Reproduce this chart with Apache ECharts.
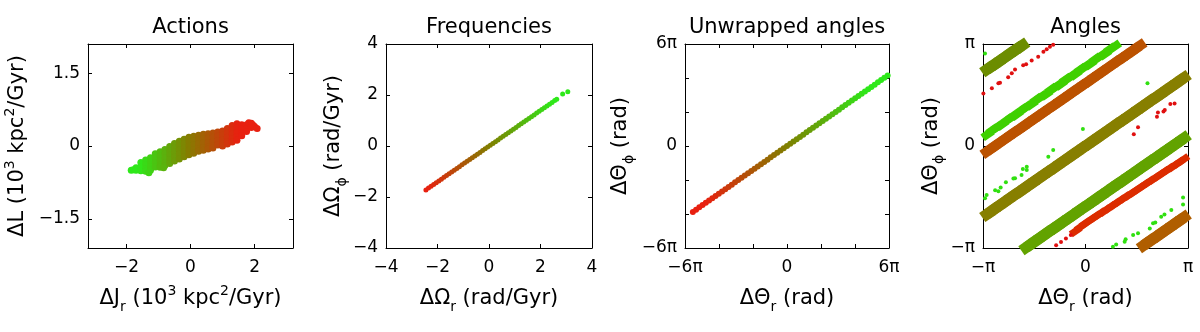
<!DOCTYPE html>
<html>
<head>
<meta charset="utf-8">
<script src="https://cdn.jsdelivr.net/npm/echarts@6/dist/echarts.min.js"></script>
<style>
html, body { margin: 0; padding: 0; background: #fff; }
#chart { width: 1200px; height: 332px; }
</style>
</head>
<body>
<div id="chart"></div>
<script>
const PI = Math.PI;

// tick positions / labels
const actionXTicks = [-2, 0, 2];
const actionYTicks = [-1.5, 0, 1.5];
const freqTicks = [-4, -2, 0, 2, 4];
const unwrapTicks = [-6 * PI, -4 * PI, -2 * PI, 0, 2 * PI, 4 * PI, 6 * PI];
const unwrapLabels = [-6 * PI, 0, 6 * PI];
const angleTicks = [-PI, 0, PI];

const titles = ['Actions', 'Frequencies', 'Unwrapped angles', 'Angles'];

// Actions: dJr vs dL (10^3 kpc^2/Gyr)
const actionsCloud = [
  [-1.85, -0.50], [-1.78, -0.49], [-1.70, -0.45], [-1.70, -0.50],
  [-1.55, -0.34], [-1.55, -0.43], [-1.55, -0.51],
  [-1.40, -0.29], [-1.40, -0.38], [-1.40, -0.47], [-1.40, -0.52],
  [-1.25, -0.24], [-1.25, -0.33], [-1.25, -0.42], [-1.25, -0.50],
  [-1.10, -0.16], [-1.10, -0.25], [-1.10, -0.34], [-1.10, -0.43],
  [-0.95, -0.12], [-0.95, -0.21], [-0.95, -0.30], [-0.95, -0.39], [-0.95, -0.44],
  [-0.80, -0.07], [-0.80, -0.16], [-0.80, -0.25], [-0.80, -0.34], [-0.80, -0.40],
  [-0.65, -0.01], [-0.65, -0.10], [-0.65, -0.19], [-0.65, -0.28], [-0.65, -0.36],
  [-0.50, 0.05], [-0.50, -0.04], [-0.50, -0.13], [-0.50, -0.22], [-0.50, -0.31],
  [-0.35, 0.10], [-0.35, 0.01], [-0.35, -0.08], [-0.35, -0.17], [-0.35, -0.27],
  [-0.20, 0.14], [-0.20, 0.05], [-0.20, -0.04], [-0.20, -0.13], [-0.20, -0.22],
  [-0.05, 0.18], [-0.05, 0.09], [-0.05, 0.00], [-0.05, -0.09], [-0.05, -0.18],
  [0.10, 0.20], [0.10, 0.11], [0.10, 0.02], [0.10, -0.07], [0.10, -0.15],
  [0.25, 0.22], [0.25, 0.13], [0.25, 0.04], [0.25, -0.05], [0.25, -0.11],
  [0.40, 0.24], [0.40, 0.15], [0.40, 0.06], [0.40, -0.03], [0.40, -0.09],
  [0.55, 0.25], [0.55, 0.16], [0.55, 0.07], [0.55, -0.02], [0.55, -0.06],
  [0.70, 0.27], [0.70, 0.18], [0.70, 0.09], [0.70, 0.00], [0.70, -0.04],
  [0.85, 0.29], [0.85, 0.20], [0.85, 0.11], [0.85, 0.02],
  [1.00, 0.31], [1.00, 0.22], [1.00, 0.13], [1.00, 0.04], [1.00, 0.00],
  [1.15, 0.36], [1.15, 0.27], [1.15, 0.18], [1.15, 0.09], [1.15, 0.04],
  [1.30, 0.42], [1.30, 0.33], [1.30, 0.24], [1.30, 0.15], [1.30, 0.08],
  [1.45, 0.46], [1.45, 0.37], [1.45, 0.28], [1.45, 0.19], [1.45, 0.12],
  [1.60, 0.44], [1.60, 0.35], [1.60, 0.26], [1.60, 0.21],
  [1.75, 0.44], [1.75, 0.36], [1.75, 0.30],
  [1.82, 0.48], [1.90, 0.47], [1.90, 0.38], [1.95, 0.43],
  [2.00, 0.40], [2.08, 0.36], [-0.84, -0.45], [-1.30, -0.55]
];

// Frequencies: dOmega_r vs dOmega_phi (rad/Gyr)
const freqPoints = [
  [-2.45, -1.73], [-2.35, -1.65], [-2.25, -1.58], [-2.15, -1.51], [-2.05, -1.44],
  [-1.95, -1.37], [-1.85, -1.30], [-1.75, -1.23], [-1.65, -1.16], [-1.55, -1.09],
  [-1.45, -1.02], [-1.35, -0.95], [-1.25, -0.88], [-1.15, -0.81], [-1.05, -0.74],
  [-0.95, -0.67], [-0.85, -0.60], [-0.75, -0.53], [-0.65, -0.46], [-0.55, -0.39],
  [-0.45, -0.32], [-0.35, -0.25], [-0.25, -0.18], [-0.15, -0.11], [-0.05, -0.04],
  [0.05, 0.03], [0.15, 0.10], [0.25, 0.17], [0.35, 0.24], [0.45, 0.31],
  [0.55, 0.38], [0.65, 0.45], [0.75, 0.52], [0.85, 0.59], [0.95, 0.66],
  [1.05, 0.73], [1.15, 0.80], [1.25, 0.87], [1.35, 0.94], [1.45, 1.01],
  [1.55, 1.08], [1.65, 1.15], [1.75, 1.22], [1.85, 1.29], [1.95, 1.36],
  [2.05, 1.43], [2.15, 1.50], [2.25, 1.57], [2.35, 1.64], [2.45, 1.71],
  [2.55, 1.78], [2.63, 1.83], [2.86, 2.04], [3.06, 2.13]
];

// Unwrapped angles (rad)
const unwrappedPoints = [
  [-17.4, -12.18], [-16.8, -11.76], [-16.2, -11.34], [-15.6, -10.92], [-15.0, -10.50],
  [-14.4, -10.08], [-13.8, -9.66], [-13.2, -9.24], [-12.6, -8.82], [-12.0, -8.40],
  [-11.4, -7.98], [-10.8, -7.56], [-10.2, -7.14], [-9.6, -6.72], [-9.0, -6.30],
  [-8.4, -5.88], [-7.8, -5.46], [-7.2, -5.04], [-6.6, -4.62], [-6.0, -4.20],
  [-5.4, -3.78], [-4.8, -3.36], [-4.2, -2.94], [-3.6, -2.52], [-3.0, -2.10],
  [-2.4, -1.68], [-1.8, -1.26], [-1.2, -0.84], [-0.6, -0.42], [0, 0],
  [0.6, 0.42], [1.2, 0.84], [1.8, 1.26], [2.4, 1.68], [3.0, 2.10],
  [3.6, 2.52], [4.2, 2.94], [4.8, 3.36], [5.4, 3.78], [6.0, 4.20],
  [6.6, 4.62], [7.2, 5.04], [7.8, 5.46], [8.4, 5.88], [9.0, 6.30],
  [9.6, 6.72], [10.2, 7.14], [10.8, 7.56], [11.4, 7.98], [12.0, 8.40],
  [12.6, 8.82], [13.2, 9.24], [13.8, 9.66], [14.4, 10.08], [15.0, 10.50],
  [15.6, 10.92], [16.2, 11.34], [16.8, 11.76], [17.4, 12.18], [18.0, 12.60],
  [18.6, 13.02], [18.9, 13.23]
];

// Angles (wrapped, rad): one array per band, running past the frame edges
const bandCentre = [
  [-3.30, -2.29], [-3.15, -2.19], [-3.00, -2.09], [-2.85, -1.98], [-2.70, -1.88], [-2.55, -1.77],
  [-2.40, -1.67], [-2.25, -1.56], [-2.10, -1.46], [-1.95, -1.36], [-1.80, -1.25],
  [-1.65, -1.15], [-1.50, -1.04], [-1.35, -0.94], [-1.20, -0.83], [-1.05, -0.73],
  [-0.90, -0.63], [-0.75, -0.52], [-0.60, -0.42], [-0.45, -0.31], [-0.30, -0.21],
  [-0.15, -0.10], [0, 0], [0.15, 0.10], [0.30, 0.21], [0.45, 0.31],
  [0.60, 0.42], [0.75, 0.52], [0.90, 0.63], [1.05, 0.73], [1.20, 0.83],
  [1.35, 0.94], [1.50, 1.04], [1.65, 1.15], [1.80, 1.25], [1.95, 1.36],
  [2.10, 1.46], [2.25, 1.56], [2.40, 1.67], [2.55, 1.77], [2.70, 1.88],
  [2.85, 1.98], [3.00, 2.09], [3.15, 2.19], [3.30, 2.29]
];
const bandOliveTop = [
  [-3.30, 2.16], [-3.15, 2.26], [-3.00, 2.37], [-2.85, 2.47], [-2.70, 2.57], [-2.55, 2.68],
  [-2.40, 2.78], [-2.25, 2.89], [-2.10, 2.99], [-1.95, 3.09], [-1.80, 3.20], [-1.65, 3.30],
  [-1.50, 3.40], [-1.35, 3.51]
];
const bandOliveLow = [
  [-2.25, -3.43], [-2.10, -3.32],
  [-1.95, -3.22], [-1.80, -3.11], [-1.65, -3.01], [-1.50, -2.90], [-1.35, -2.80],
  [-1.20, -2.69], [-1.05, -2.59], [-0.90, -2.49], [-0.75, -2.38], [-0.60, -2.28],
  [-0.45, -2.17], [-0.30, -2.07], [-0.15, -1.96], [0, -1.86], [0.15, -1.76],
  [0.30, -1.65], [0.45, -1.55], [0.60, -1.44], [0.75, -1.34], [0.90, -1.23],
  [1.05, -1.13], [1.20, -1.03], [1.35, -0.92], [1.50, -0.82], [1.65, -0.71],
  [1.80, -0.61], [1.95, -0.50], [2.10, -0.40], [2.25, -0.30], [2.40, -0.19],
  [2.55, -0.09], [2.70, 0.02], [2.85, 0.12], [3.00, 0.23], [3.15, 0.33], [3.30, 0.43]
];
const bandGreen = [
  [-3.30, 0.18], [-3.15, 0.28], [-3.00, 0.36], [-2.85, 0.49], [-2.70, 0.59], [-2.55, 0.67],
  [-2.40, 0.80], [-2.25, 0.90], [-2.10, 0.98], [-1.95, 1.11], [-1.80, 1.21],
  [-1.65, 1.29], [-1.50, 1.43], [-1.35, 1.52], [-1.20, 1.60], [-1.05, 1.74],
  [-0.90, 1.83], [-0.75, 1.91], [-0.60, 2.05], [-0.45, 2.14], [-0.30, 2.22],
  [-0.15, 2.36], [0, 2.45], [0.15, 2.53], [0.30, 2.67], [0.45, 2.76],
  [0.60, 2.84], [0.75, 2.98], [0.90, 3.07], [1.05, 3.17], [1.20, 3.28], [1.35, 3.38]
];
const bandBrownTop = [
  [-3.30, -0.36], [-3.15, -0.26], [-3.00, -0.16], [-2.85, -0.05], [-2.70, 0.05], [-2.55, 0.16],
  [-2.40, 0.26], [-2.25, 0.37], [-2.10, 0.47], [-1.95, 0.57], [-1.80, 0.68],
  [-1.65, 0.78], [-1.50, 0.89], [-1.35, 0.99], [-1.20, 1.10], [-1.05, 1.20],
  [-0.90, 1.30], [-0.75, 1.41], [-0.60, 1.51], [-0.45, 1.62], [-0.30, 1.72],
  [-0.15, 1.83], [0, 1.93], [0.15, 2.03], [0.30, 2.14], [0.45, 2.24],
  [0.60, 2.35], [0.75, 2.45], [0.90, 2.56], [1.05, 2.66], [1.20, 2.76],
  [1.35, 2.87], [1.50, 2.97], [1.65, 3.08], [1.80, 3.18], [1.95, 3.29], [2.10, 3.39]
];
const bandBrownLow = [
  [1.35, -3.36], [1.50, -3.25],
  [1.65, -3.15], [1.80, -3.05], [1.95, -2.94], [2.10, -2.84], [2.25, -2.74],
  [2.40, -2.63], [2.55, -2.53], [2.70, -2.42], [2.85, -2.32], [3.00, -2.21], [3.15, -2.11], [3.30, -2.01]
];
const bandRed = [
  [-0.30, -2.62], [-0.15, -2.49], [0, -2.38], [0.15, -2.28], [0.30, -2.18],
  [0.45, -2.08], [0.60, -1.99], [0.75, -1.89], [0.90, -1.79], [1.05, -1.69],
  [1.20, -1.59], [1.35, -1.50], [1.50, -1.40], [1.65, -1.30], [1.80, -1.20],
  [1.95, -1.10], [2.10, -1.01], [2.25, -0.91], [2.40, -0.81], [2.55, -0.71],
  [2.70, -0.62], [2.85, -0.52], [3.00, -0.42], [3.15, -0.32], [3.30, -0.22]
];
const dotsRed = [
  [-0.90, -3.06], [-0.75, -2.96], [-0.60, -2.85], [-0.45, -2.74],
  [-3.13, 1.62], [-2.87, 1.78], [-2.67, 1.93], [-2.62, 1.95], [-2.37, 2.12],
  [-2.26, 2.24], [-2.16, 2.36], [-1.91, 2.49], [-1.82, 2.52], [-1.65, 2.63],
  [-1.45, 2.75], [-1.29, 2.90], [-1.19, 2.98], [-1.09, 3.06], [-0.99, 3.12],
  [2.73, 1.31], [2.60, 1.29], [2.43, 1.11], [2.39, 1.06], [2.22, 1.03],
  [2.19, 0.90], [1.61, 0.58], [1.48, 0.36]
];
const dotsGreen = [
  [-3.08, -1.61], [-3.03, -1.51], [-2.77, -1.36], [-2.67, -1.39], [-2.60, -1.28],
  [-2.44, -1.12], [-2.21, -1.00], [-2.16, -0.99], [-1.96, -0.89], [-1.92, -0.71],
  [-1.80, -0.64], [-1.80, -0.74], [-1.14, -0.33], [-0.99, -0.12], [-0.08, 0.52],
  [-3.08, 2.85], [1.90, 1.93],
  [0.84, -3.10], [0.94, -3.03], [1.20, -2.95], [1.23, -2.87], [1.46, -2.74],
  [1.61, -2.69], [1.97, -2.54], [2.07, -2.38], [2.14, -2.36], [2.32, -2.18],
  [2.42, -2.11], [2.63, -1.97], [2.99, -1.80], [2.99, -1.59]
];

const FONT = 'DejaVu Sans';
const rich = {
  m: { fontFamily: FONT, fontSize: 21, lineHeight: 30, verticalAlign: 'middle', color: '#000' },
  sub: { fontFamily: FONT, fontSize: 14, lineHeight: 14, verticalAlign: 'bottom', color: '#000' },
  sup: { fontFamily: FONT, fontSize: 14, lineHeight: 20, verticalAlign: 'top', color: '#000' }
};

const grids = [
  { left: 88, top: 44, width: 205, height: 204 },
  { left: 386, top: 44, width: 206, height: 204 },
  { left: 685, top: 44, width: 204, height: 204 },
  { left: 983, top: 44, width: 205, height: 204 }
];

const numLabel = v => (v < 0 ? '\u2212' + Math.abs(v) : String(v));
const piLabel = v => {
  const k = Math.round(v / PI);
  if (k === 0) return '0';
  const a = Math.abs(k);
  return (k < 0 ? '\u2212' : '') + (a === 1 ? '' : a) + '\u03c0';
};

function makeAxis(gridIndex, position, min, max, ticks, labels, fmt, name, nameGap) {
  const main = position === 'bottom' || position === 'left';
  return {
    type: 'value',
    gridIndex: gridIndex,
    position: position,
    min: min,
    max: max,
    axisLine: { show: true, onZero: false, lineStyle: { color: '#000', width: 1 } },
    axisTick: { show: true, inside: true, length: 4, customValues: ticks, lineStyle: { color: '#000' } },
    axisLabel: {
      show: main,
      customValues: labels,
      formatter: fmt,
      color: '#000',
      fontFamily: FONT,
      fontSize: 17,
      margin: position === 'bottom' ? 11 : 8
    },
    splitLine: { show: false },
    name: main ? name : '',
    nameLocation: 'middle',
    nameGap: nameGap || 0,
    nameRotate: position === 'left' ? 90 : 0,
    nameTextStyle: { rich: rich }
  };
}

const xNames = [
  '{m|\u0394J}{sub|r}{m| (10}{sup|3}{m| kpc}{sup|2}{m|/Gyr)}',
  '{m|\u0394\u03a9}{sub|r}{m| (rad/Gyr)}',
  '{m|\u0394\u0398}{sub|r}{m| (rad)}',
  '{m|\u0394\u0398}{sub|r}{m| (rad)}'
];
const yNames = [
  '{m|\u0394L (10}{sup|3}{m| kpc}{sup|2}{m|/Gyr)}',
  '{m|\u0394\u03a9}{sub|\u03d5}{m| (rad/Gyr)}',
  '{m|\u0394\u0398}{sub|\u03d5}{m| (rad)}',
  '{m|\u0394\u0398}{sub|\u03d5}{m| (rad)}'
];

const xAxes = [
  makeAxis(0, 'bottom', -3.2, 3.2, actionXTicks, actionXTicks, numLabel, xNames[0], 36),
  makeAxis(1, 'bottom', -4, 4, freqTicks, freqTicks, numLabel, xNames[1], 36),
  makeAxis(2, 'bottom', -6 * PI, 6 * PI, unwrapTicks, unwrapLabels, piLabel, xNames[2], 36),
  makeAxis(3, 'bottom', -PI, PI, angleTicks, angleTicks, piLabel, xNames[3], 36),
  makeAxis(0, 'top', -3.2, 3.2, actionXTicks, actionXTicks, numLabel),
  makeAxis(1, 'top', -4, 4, freqTicks, freqTicks, numLabel),
  makeAxis(2, 'top', -6 * PI, 6 * PI, unwrapTicks, unwrapLabels, piLabel),
  makeAxis(3, 'top', -PI, PI, angleTicks, angleTicks, piLabel)
];
const yAxes = [
  makeAxis(0, 'left', -2.1, 2.1, actionYTicks, actionYTicks, numLabel, yNames[0], 55),
  makeAxis(1, 'left', -4, 4, freqTicks, freqTicks, numLabel, yNames[1], 34),
  makeAxis(2, 'left', -6 * PI, 6 * PI, unwrapTicks, unwrapLabels, piLabel, yNames[2], 49),
  makeAxis(3, 'left', -PI, PI, angleTicks, angleTicks, piLabel, yNames[3], 36),
  makeAxis(0, 'right', -2.1, 2.1, actionYTicks, actionYTicks, numLabel),
  makeAxis(1, 'right', -4, 4, freqTicks, freqTicks, numLabel),
  makeAxis(2, 'right', -6 * PI, 6 * PI, unwrapTicks, unwrapLabels, piLabel),
  makeAxis(3, 'right', -PI, PI, angleTicks, angleTicks, piLabel)
];

// bands in the Angles panel are drawn with rects turned along the band
const BAND_ANGLE = 34.7;

function scatter(panel, data, size, color, symbol) {
  const s = {
    type: 'scatter',
    xAxisIndex: panel,
    yAxisIndex: panel,
    data: data,
    symbol: symbol || 'circle',
    symbolSize: size,
    silent: true,
    clip: true,
    itemStyle: { opacity: 1 }
  };
  if (symbol === 'rect') s.symbolRotate = BAND_ANGLE;
  if (color) s.itemStyle.color = color;
  return s;
}

const chart = echarts.init(document.getElementById('chart'), null, { renderer: 'canvas' });
chart.setOption({
  animation: false,
  backgroundColor: '#fff',
  title: titles.map((t, i) => ({
    text: t,
    left: grids[i].left + grids[i].width / 2,
    top: 17,
    textAlign: 'center',
    padding: 0,
    textStyle: { fontFamily: FONT, fontSize: 21, fontWeight: 'normal', color: '#000' }
  })),
  grid: grids,
  xAxis: xAxes,
  yAxis: yAxes,
  visualMap: [
    { type: 'continuous', show: false, seriesIndex: 0, dimension: 0, min: -1.6, max: 1.5,
      inRange: { color: ['#2ee81a', '#857d00', '#e82010'] } },
    { type: 'continuous', show: false, seriesIndex: 1, dimension: 0, min: -2.4, max: 2.5,
      inRange: { color: ['#e82010', '#807f00', '#2ee81a'] } },
    { type: 'continuous', show: false, seriesIndex: 2, dimension: 0, min: -15, max: 15,
      inRange: { color: ['#e82010', '#807f00', '#2ee81a'] } }
  ],
  series: [
    scatter(0, actionsCloud, 7),
    scatter(1, freqPoints, 5),
    scatter(2, unwrappedPoints, 6),
    scatter(3, bandCentre, [13, 11], '#877f00', 'rect'),
    scatter(3, bandOliveTop, [13, 11], '#6c8d00', 'rect'),
    scatter(3, bandOliveLow, [13, 11], '#62a300', 'rect'),
    scatter(3, bandGreen, [12, 8], '#3fd000', 'rect'),
    scatter(3, bandBrownTop, [13, 10], '#bb5200', 'rect'),
    scatter(3, bandBrownLow, [13, 11], '#b05e00', 'rect'),
    scatter(3, bandRed, [12, 7], '#dc2c00', 'rect'),
    scatter(3, dotsRed, 4, '#e01010'),
    scatter(3, dotsGreen, 4, '#30e010')
  ]
});
</script>
</body>
</html>
